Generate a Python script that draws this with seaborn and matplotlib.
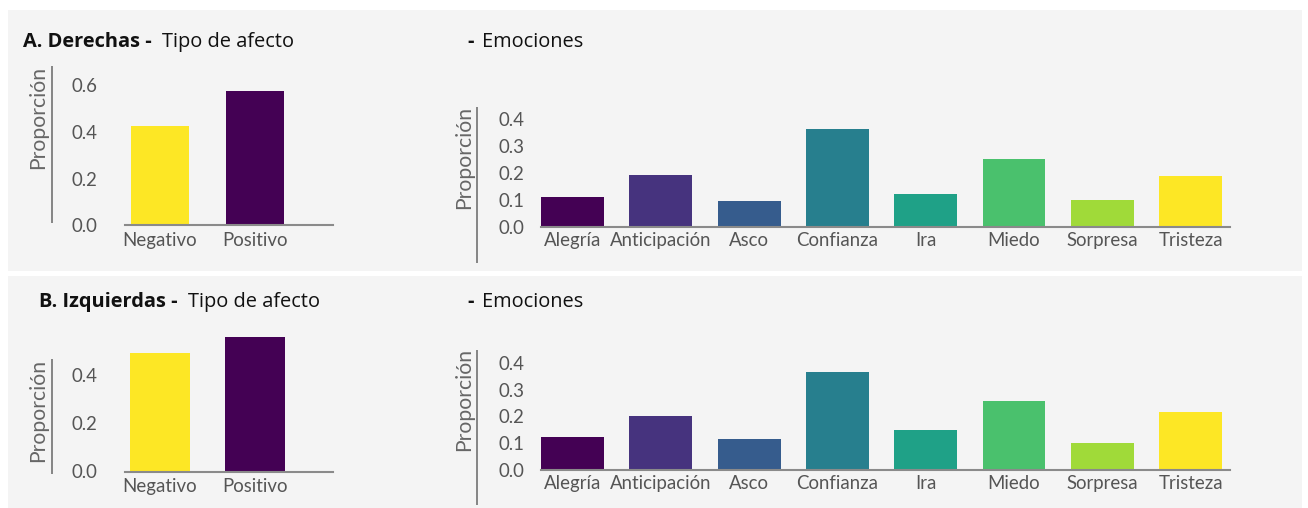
import numpy as np
import pandas as pd
import matplotlib
matplotlib.use("Agg")
import matplotlib.pyplot as plt
import seaborn as sns
from matplotlib.patches import Rectangle

# ---------------- data ----------------
afecto = ["Negativo", "Positivo"]
afecto_derechas = [0.425, 0.575]
afecto_izquierdas = [0.494, 0.560]
afecto_colores = ["#fde725", "#440154"]

emociones = ["Alegría", "Anticipación", "Asco", "Confianza", "Ira", "Miedo", "Sorpresa", "Tristeza"]
emociones_derechas = [0.110, 0.191, 0.095, 0.362, 0.121, 0.251, 0.098, 0.188]
emociones_izquierdas = [0.122, 0.201, 0.115, 0.366, 0.149, 0.257, 0.100, 0.216]
emociones_colores = ["#440154", "#46337e", "#365c8d", "#277f8e",
                     "#1fa187", "#4ac16d", "#a0da39", "#fde725"]

ticks_afecto_a = [0.0, 0.2, 0.4, 0.6]
ticks_afecto_b = [0.0, 0.2, 0.4]
ticks_emociones = [0.0, 0.1, 0.2, 0.3, 0.4]

titulo_a = "A. Derechas -"
titulo_b = "B. Izquierdas -"
sub_afecto = "Tipo de afecto"
guion = "-"
sub_emo = "Emociones"
ylab = "Proporción"

# ---------------- style ----------------
sns.set_theme(style="white")
plt.rcParams["font.family"] = ["Lato", "DejaVu Sans"]

TICK_COLOR = "#555555"
TICK_SIZE = 13.4
YLAB_SIZE = 15.2
TITLE_FONT = ["Open Sans", "DejaVu Sans"]
TITLE_SIZE = 14.4

W, H = 1308, 508
fig = plt.figure(figsize=(W / 100, H / 100), dpi=100, facecolor="white")

# grey panels
fig.add_artist(Rectangle((8 / W, 1 - 271 / H), 1294 / W, 261 / H, transform=fig.transFigure,
                         facecolor="#f4f4f4", edgecolor="none", zorder=-10))
fig.add_artist(Rectangle((8 / W, 1 - 508 / H), 1294 / W, 232 / H, transform=fig.transFigure,
                         facecolor="#f4f4f4", edgecolor="none", zorder=-10))


def px_axes(x0, x1, ytop, ybot):
    return fig.add_axes([x0 / W, 1 - ybot / H, (x1 - x0) / W, (ybot - ytop) / H])


def draw(box, cats, vals, colors, width, ylim, xlim, yticks, ypad, xpad,
         vline, ylab_xy):
    x0, x1, ytop, ybot = box
    ax = px_axes(x0, x1, ytop, ybot)
    df = pd.DataFrame({"cat": cats, "val": vals})
    sns.barplot(data=df, x="cat", y="val", hue="cat", order=cats, hue_order=cats,
                palette=colors, width=width, saturation=1, legend=False, ax=ax,
                linewidth=0, edgecolor="none")
    ax.set_facecolor("none")
    ax.set_ylim(*ylim)
    ax.set_xlim(*xlim)
    ax.set_yticks(yticks)
    ax.set_yticklabels([f"{t:.1f}" for t in yticks])
    ax.set_xlabel("")
    for s in ("left", "top", "right"):
        ax.spines[s].set_visible(False)
    ax.spines["bottom"].set_color("#8a8a8a")
    ax.spines["bottom"].set_linewidth(1.5)
    ax.spines["bottom"].set_zorder(5)
    ax.tick_params(axis="y", length=0, pad=ypad, labelsize=TICK_SIZE, labelcolor=TICK_COLOR)
    ax.tick_params(axis="x", length=0, pad=xpad, labelsize=TICK_SIZE, labelcolor=TICK_COLOR)
    ax.grid(False)
    # decorative vertical line
    vx, vy0, vy1 = vline
    xf = (vx - x0) / (x1 - x0)
    yf0 = (ybot - vy0) / (ybot - ytop)
    yf1 = (ybot - vy1) / (ybot - ytop)
    ax.plot([xf, xf], [yf0, yf1], transform=ax.transAxes, clip_on=False,
            color="#666666", lw=1.1, solid_capstyle="butt")
    ax.set_ylabel(ylab, fontsize=YLAB_SIZE, color="#666666", va="center")
    lx, ly = ylab_xy
    ax.yaxis.set_label_coords((lx - x0) / (x1 - x0), (ybot - ly) / (ybot - ytop))
    return ax


# Panel A
draw((125, 333, 66.7, 225.3), afecto, afecto_derechas, afecto_colores, 0.61,
     (0, 0.68), (-0.368, 1.821), ticks_afecto_a, 20, 5,
     (52.3, 222.7, 66), (38, 117))
draw((541, 1230, 108.1, 226.5), emociones, emociones_derechas, emociones_colores, 0.713,
     (0, 0.44), (-0.357, 7.446), ticks_emociones, 12, 4,
     (476.7, 262.7, 107), (464, 157))

# Panel B
draw((125, 333, 332.3, 471.5), afecto, afecto_izquierdas, afecto_colores, 0.64,
     (0, 0.58), (-0.368, 1.821), ticks_afecto_b, 20, 5,
     (52.3, 474, 359), (38, 410.5))
draw((541, 1230, 352.4, 469.7), emociones, emociones_izquierdas, emociones_colores, 0.713,
     (0, 0.44), (-0.357, 7.446), ticks_emociones, 12, 4,
     (476.7, 505, 350), (464, 399))

# Titles
def title(x, y, txt, bold):
    fig.text(x / W, 1 - y / H, txt, family=TITLE_FONT, fontsize=TITLE_SIZE,
             fontweight="bold" if bold else "normal", color="#111111",
             ha="left", va="center")

title(23, 41.7, titulo_a, True)
title(162, 41.7, sub_afecto, False)
title(467, 41.7, guion, True)
title(482, 41.7, sub_emo, False)
title(39, 302, titulo_b, True)
title(188, 302, sub_afecto, False)
title(467, 302, guion, True)
title(482, 302, sub_emo, False)

fig.savefig("out.png", dpi=100, facecolor="white")
